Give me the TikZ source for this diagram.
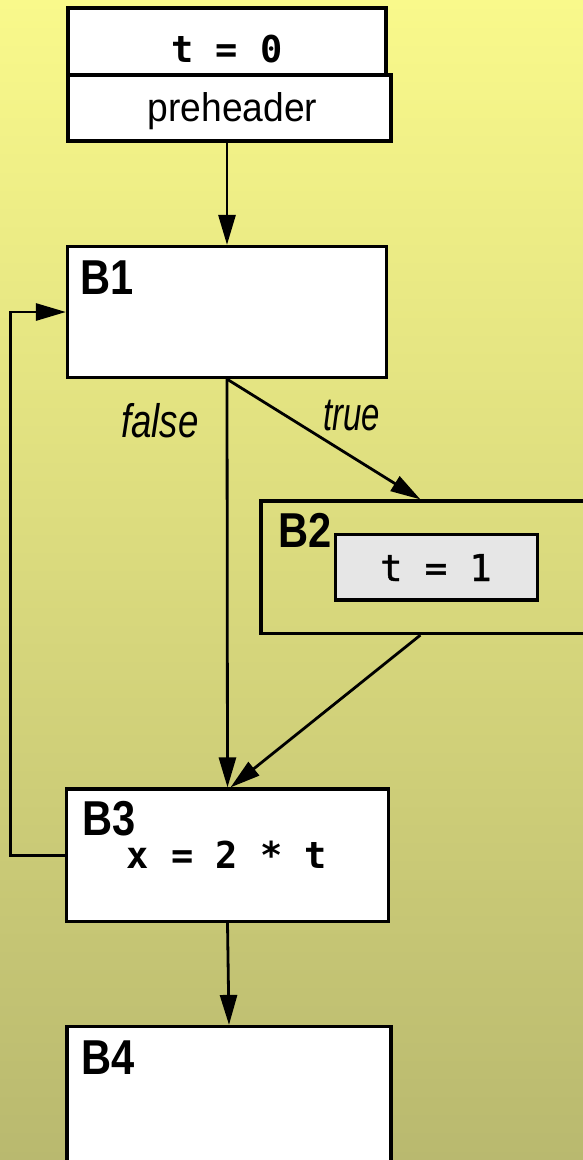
\documentclass[tikz,border=0pt]{standalone}
\usepackage{graphicx}
\usepackage{fontspec}
\setmainfont{Liberation Sans}
\newfontfamily\codefont{DejaVu Sans Mono}
\newfontfamily\codefontmed[FakeBold=1.2]{DejaVu Sans Mono}
\usetikzlibrary{arrows.meta}
\definecolor{bgtop}{HTML}{F9F98B}
\definecolor{bgbot}{HTML}{B9B96F}
\definecolor{innergray}{HTML}{E6E6E6}
\tikzset{
  blk/.style={draw, line width=3.2pt, fill=white, inner sep=0pt},
  openblk/.style={draw, line width=3.2pt, inner sep=0pt},
  graybox/.style={draw, line width=3.2pt, fill=innergray, inner sep=0pt},
  lbl/.style={inner sep=0pt, anchor=base west, font=\fontsize{49}{50}\selectfont\bfseries},
  codetxt/.style={inner sep=0pt, anchor=base, font=\fontsize{37}{40}\selectfont\codefont\bfseries},
  codereg/.style={inner sep=0pt, anchor=base, font=\fontsize{37}{40}\selectfont\codefontmed},
  plaintxt/.style={inner sep=0pt, anchor=base, font=\fontsize{40}{42}\selectfont},
  edgetxt/.style={inner sep=0pt, anchor=base west, font=\fontsize{47}{50}\selectfont\itshape},
  arr/.style={line width=2.8pt, -{Triangle[length=30pt,width=17pt]}}
}
\begin{document}
\begin{tikzpicture}[x=1pt,y=-1pt]
\useasboundingbox (0,0) rectangle (583,1160);
\shade[top color=bgtop, bottom color=bgbot] (0,0) rectangle (583,1160);

% blocks
\node[blk, minimum width=318pt, minimum height=67pt] (t0) at (227,41.5) {};
\node[blk, minimum width=323pt, minimum height=66pt] (pre) at (229.5,108) {};
\node[blk, minimum width=319pt, minimum height=131pt] (B1) at (227,312) {};
\node[openblk, minimum width=339pt, minimum height=132.5pt] (B2) at (430.5,567.25) {};
\node[graybox, minimum width=202pt, minimum height=65.5pt] (in) at (436.5,567.25) {};
\node[blk, minimum width=322pt, minimum height=132.5pt] (B3) at (227.5,855.25) {};
\node[blk, minimum width=324pt, minimum height=173.5pt] (B4) at (229,1113.25) {};

% texts
\node[codetxt] (t0txt) at (227,62) {t = 0};
\node[plaintxt] (pretxt) at (232.5,121.5) {\scalebox{0.93}[1]{preheader}};
\node[codereg] (intxt) at (436,581) {t = 1};
\node[codetxt] (B3txt) at (227,868) {x = 2 * t};
\node[lbl] (B1lbl) at (80,294) {\scalebox{0.85}[1]{B1}};
\node[lbl] (B2lbl) at (278,547) {\scalebox{0.85}[1]{B2}};
\node[lbl] (B3lbl) at (82,835) {\scalebox{0.85}[1]{B3}};
\node[lbl] (B4lbl) at (81,1074) {\scalebox{0.85}[1]{B4}};
\node[edgetxt] (falselbl) at (121,437) {\scalebox{0.78}[1]{false}};
\node[edgetxt] (truelbl) at (323,430) {\scalebox{0.70}[1]{true}};

% connectors
\coordinate (loopx) at (10.5,0);
\draw[arr] (B1.north |- pre.south) -- (B1.north);
\draw[arr] (B1.south) -- (B3.north);
\draw[arr] (B1.south) -- ([xshift=161pt]B2.north west);
\draw[arr] ([xshift=161pt]B2.south west) -- ([xshift=3pt]B3.north);
\draw[arr] (B3.south) -- (B4.north);
\draw[arr] (B3.west) -- (B3.west -| loopx) |- (B1.west);
\end{tikzpicture}
\end{document}
